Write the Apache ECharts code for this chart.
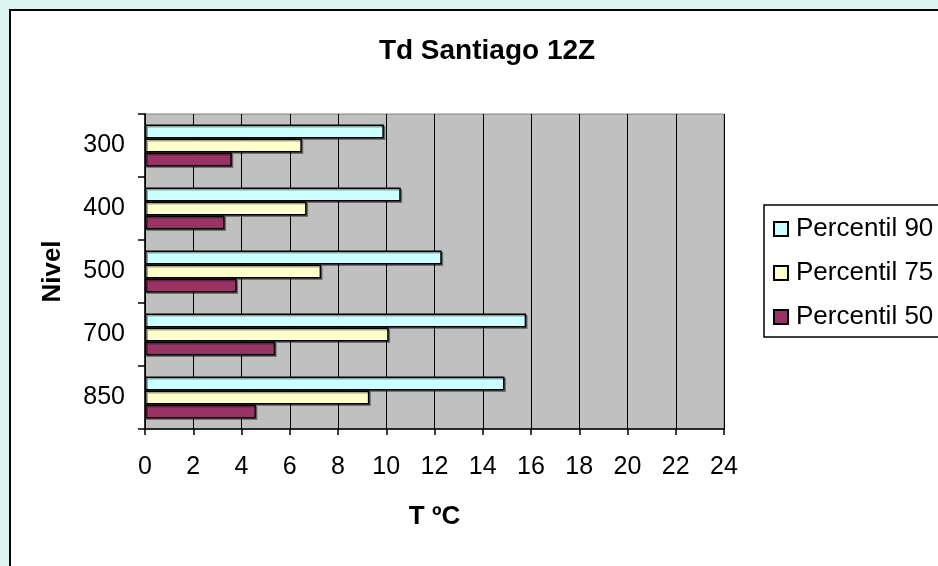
<!DOCTYPE html>
<html>
<head>
<meta charset="utf-8">
<title>Td Santiago 12Z</title>
<script src="https://cdn.jsdelivr.net/npm/echarts@6/dist/echarts.min.js"></script>
<style>
  html, body { margin: 0; padding: 0; background: #DDF5F0; }
  #chart { width: 938px; height: 566px; }
</style>
</head>
<body>
<div id="chart"></div>
<script>
// Pressure levels (hPa) shown on the category axis, top to bottom
const niveles = ['300', '400', '500', '700', '850'];

// Dew-point temperature percentiles (°C) per level
const percentil90 = [9.9, 10.6, 12.3, 15.8, 14.9];
const percentil75 = [6.5, 6.7, 7.3, 10.1, 9.3];
const percentil50 = [3.6, 3.3, 3.8, 5.4, 4.6];

const seriesNames = ['Percentil 90', 'Percentil 75', 'Percentil 50'];
const seriesColors = ['#CCFFFF', '#FFFFCC', '#993366'];
const seriesValues = [percentil90, percentil75, percentil50];

const FONT = '"Liberation Sans", Arial, sans-serif';

const chart = echarts.init(document.getElementById('chart'), null, { renderer: 'canvas' });

chart.setOption({
  backgroundColor: '#DDF5F0',
  animation: false,
  textStyle: { fontFamily: FONT, color: '#000' },
  graphic: [{
    type: 'rect',
    z: -10,
    silent: true,
    shape: { x: 10, y: 10, width: 1000, height: 1000 },
    style: { fill: '#FFFFFF', stroke: '#000000', lineWidth: 2 }
  }],
  title: {
    text: 'Td Santiago 12Z',
    left: 482,
    textAlign: 'center',
    top: 32,
    textStyle: { fontFamily: FONT, fontWeight: 'bold', fontSize: 28, color: '#000' }
  },
  legend: {
    orient: 'vertical',
    left: 764,
    top: 205,
    data: seriesNames,
    icon: 'rect',
    itemWidth: 14,
    itemHeight: 14,
    itemGap: 14,
    padding: [9, 40, 5, 9],
    backgroundColor: '#FFFFFF',
    borderColor: '#000000',
    borderWidth: 1.5,
    borderRadius: 0,
    textStyle: { fontFamily: FONT, fontSize: 26, color: '#000', lineHeight: 30, padding: [0, 0, 0, 3] }
  },
  grid: {
    left: 145,
    right: 214,
    top: 114,
    bottom: 137,
    show: true,
    backgroundColor: '#C0C0C0',
    borderColor: '#808080',
    borderWidth: 1
  },
  xAxis: {
    type: 'value',
    min: 0,
    max: 24,
    interval: 2,
    name: 'T ºC',
    nameLocation: 'middle',
    nameGap: 75,
    nameTextStyle: { fontFamily: FONT, fontWeight: 'bold', fontSize: 26, color: '#000' },
    axisLine: { show: true, lineStyle: { color: '#000', width: 1.5 } },
    axisTick: { show: true, length: 6, lineStyle: { color: '#000', width: 1.5 } },
    axisLabel: { fontFamily: FONT, fontSize: 25, color: '#000', margin: 26 },
    splitLine: { show: true, lineStyle: { color: '#000', width: 1 } }
  },
  yAxis: {
    type: 'category',
    inverse: true,
    data: niveles,
    name: 'Nivel',
    nameLocation: 'middle',
    nameGap: 79,
    nameRotate: 90,
    nameTextStyle: { fontFamily: FONT, fontWeight: 'bold', fontSize: 26, color: '#000' },
    axisLine: { show: true, lineStyle: { color: '#000', width: 1.5 } },
    axisTick: { show: true, length: 7, lineStyle: { color: '#000', width: 1.5 } },
    axisLabel: { fontFamily: FONT, fontSize: 25, color: '#000', margin: 20 },
    splitLine: { show: false }
  },
  series: seriesNames.map((name, i) => ({
    name,
    type: 'bar',
    data: seriesValues[i],
    barWidth: 14,
    barGap: '0%',
    itemStyle: {
      color: seriesColors[i],
      borderColor: '#000',
      borderWidth: 1.5,
      shadowColor: 'rgba(0,0,0,0.35)',
      shadowOffsetX: 1.5,
      shadowOffsetY: 1.5,
      shadowBlur: 0
    },
    emphasis: { disabled: true }
  }))
});
</script>
</body>
</html>
